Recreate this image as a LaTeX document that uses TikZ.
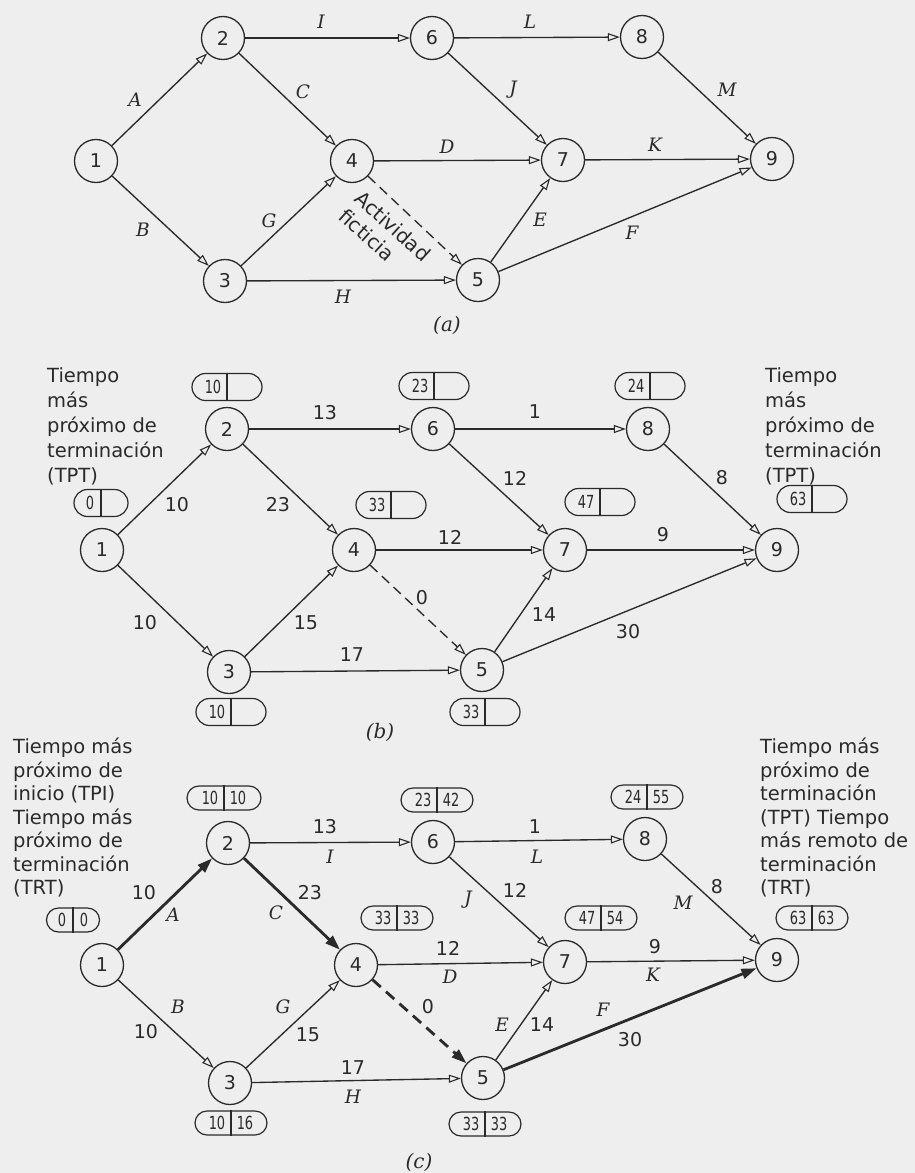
\documentclass[tikz,border=0pt]{standalone}
\usepackage{fontspec}
\newfontfamily\lblfont{DejaVu Sans}
\newfontfamily\itfont{DejaVu Serif}
\newfontfamily\boxfont[FakeStretch=0.72]{DejaVu Sans}
\usetikzlibrary{arrows.meta,shapes.misc,calc}
\definecolor{ink}{HTML}{2A2A2A}
\definecolor{paper}{HTML}{EEEEEE}
\tikzset{
  every node/.style={text=ink},
  circ/.style={circle,draw=ink,line width=1.3pt,minimum size=43pt,inner sep=0pt,font=\lblfont\fontsize{19}{19}\selectfont},
  arr/.style={draw=ink,line width=1.35pt,-{Triangle[open,length=12pt,width=8pt,line width=1.1pt]}},
  crit/.style={draw=ink,line width=2.8pt,-{Triangle[length=15pt,width=10pt]}},
  dummy/.style={arr,dash pattern=on 10pt off 6pt},
  dummycrit/.style={crit,dash pattern=on 11pt off 7pt},
  numlbl/.style={font=\lblfont\fontsize{19}{19}\selectfont,inner sep=0pt},
  ltr/.style={font=\itfont\itshape\fontsize{18.5}{18.5}\selectfont,inner sep=0pt},
  pill/.style={rounded rectangle,draw=ink,line width=1.2pt,minimum height=26pt,minimum width=70pt,inner sep=0pt},
  boxnum/.style={font=\boxfont\fontsize{18}{18}\selectfont,inner sep=0pt},
  notetxt/.style={font=\lblfont\fontsize{19.5}{25}\selectfont,align=left,anchor=north west,inner sep=0pt},
  captxt/.style={font=\itfont\itshape\fontsize{20}{20}\selectfont,inner sep=0pt},
}
\newcommand\pillbox[8]{% name, x, y, width, height, offset, left, right
  \node[pill,minimum width=#4,minimum height=#5] (#1) at (#2,#3) {};
  \draw[draw=ink,line width=1.2pt] (#1.north) -- (#1.south);
  \node[boxnum] (#1l) at ($(#1.center)+(-#6,0)$) {#7};
  \node[boxnum] (#1r) at ($(#1.center)+(#6,0)$) {#8};
}
\begin{document}
\begin{tikzpicture}[x=1pt,y=-1pt]
\fill[paper] (0,0) rectangle (915,1173);
\useasboundingbox (0,0) rectangle (915,1173);

% ================= (a) =================
\node[circ] (a1) at (96,161) {1};
\node[circ] (a2) at (223,38) {2};
\node[circ] (a6) at (432,38) {6};
\node[circ] (a8) at (642,37) {8};
\node[circ] (a4) at (352,161) {4};
\node[circ] (a7) at (563,160) {7};
\node[circ] (a9) at (772,159) {9};
\node[circ] (a3) at (225,281) {3};
\node[circ] (a5) at (478,280) {5};

\draw[arr] (a1) -- (a2);
\draw[arr] (a1) -- (a3);
\draw[arr] (a2) -- (a6);
\draw[arr] (a2) -- (a4);
\draw[arr] (a3) -- (a4);
\draw[arr] (a3) -- (a5);
\draw[arr] (a4) -- (a7);
\draw[dummy] (a4) -- (a5);
\draw[arr] (a6) -- (a8);
\draw[arr] (a6) -- (a7);
\draw[arr] (a5) -- (a7);
\draw[arr] (a5) -- (a9);
\draw[arr] (a7) -- (a9);
\draw[arr] (a8) -- (a9);

\node[ltr] (laA) at (135,100) {A};
\node[ltr] (laB) at (143,230) {B};
\node[ltr] (laC) at (303,92) {C};
\node[ltr] (laG) at (269,221) {G};
\node[ltr] (laI) at (321,22) {I};
\node[ltr] (laD) at (447,147) {D};
\node[ltr] (laH) at (343,297) {H};
\node[ltr] (laL) at (530,22) {L};
\node[ltr] (laJ) at (513,90) {J};
\node[ltr] (laM) at (727,90) {M};
\node[ltr] (laK) at (655,145) {K};
\node[ltr] (laE) at (540,220) {E};
\node[ltr] (laF) at (632,233) {F};
\node[font=\lblfont\fontsize{20}{24}\selectfont,align=left,rotate=-42,inner sep=0pt] (fict) at (385,235) {Actividad\\ficticia};
\node[captxt] (capa) at (447,325) {(a)};

% ================= (b) =================
\node[circ] (b1) at (102,550) {1};
\node[circ] (b2) at (227,429) {2};
\node[circ] (b6) at (433,429) {6};
\node[circ] (b8) at (648,429) {8};
\node[circ] (b4) at (354,550) {4};
\node[circ] (b7) at (565,550) {7};
\node[circ] (b9) at (777,550) {9};
\node[circ] (b3) at (229,672) {3};
\node[circ] (b5) at (482,670) {5};

\draw[arr] (b1) -- (b2);
\draw[arr] (b1) -- (b3);
\draw[arr] (b2) -- (b6);
\draw[arr] (b2) -- (b4);
\draw[arr] (b3) -- (b4);
\draw[arr] (b3) -- (b5);
\draw[arr] (b4) -- (b7);
\draw[dummy] (b4) -- (b5);
\draw[arr] (b6) -- (b8);
\draw[arr] (b6) -- (b7);
\draw[arr] (b5) -- (b7);
\draw[arr] (b5) -- (b9);
\draw[arr] (b7) -- (b9);
\draw[arr] (b8) -- (b9);

\node[numlbl] (nb12) at (177,505) {10};
\node[numlbl] (nb24) at (278,505) {23};
\node[numlbl] (nb26) at (325,413) {13};
\node[numlbl] (nb13) at (145,623) {10};
\node[numlbl] (nb34) at (306,623) {15};
\node[numlbl] (nb35) at (352,655) {17};
\node[numlbl] (nb45) at (422,598) {0};
\node[numlbl] (nb47) at (450,537) {12};
\node[numlbl] (nb68) at (535,412) {1};
\node[numlbl] (nb67) at (515,478) {12};
\node[numlbl] (nb89) at (722,478) {8};
\node[numlbl] (nb79) at (663,535) {9};
\node[numlbl] (nb57) at (544,615) {14};
\node[numlbl] (nb59) at (628,632) {30};

\pillbox{pb1}{101}{503}{54}{27}{11}{0}{}
\pillbox{pb2}{227}{387}{70}{27}{14}{10}{}
\pillbox{pb6}{434}{386}{70}{27}{14}{23}{}
\pillbox{pb4}{391}{505}{70}{27}{14}{33}{}
\pillbox{pb3}{231}{712}{70}{27}{14}{10}{}
\pillbox{pb8}{650}{386}{70}{27}{14}{24}{}
\pillbox{pb7}{600}{502}{70}{27}{14}{47}{}
\pillbox{pb9}{812}{499}{70}{27}{14}{63}{}
\pillbox{pb5}{485}{712}{70}{27}{14}{33}{}

\node[notetxt] (nbl) at (47,367) {Tiempo\\más\\próximo de\\terminación\\(TPT)};
\node[notetxt] (nbr) at (765,367) {Tiempo\\más\\próximo de\\terminación\\(TPT)};
\node[captxt] (capb) at (380,732) {(b)};

% ================= (c) =================
\node[circ] (c1) at (102,965) {1};
\node[circ] (c2) at (228,843) {2};
\node[circ] (c6) at (433,842) {6};
\node[circ] (c8) at (645,839) {8};
\node[circ] (c4) at (356,965) {4};
\node[circ] (c7) at (565,962) {7};
\node[circ] (c9) at (777,960) {9};
\node[circ] (c3) at (230,1083) {3};
\node[circ] (c5) at (483,1078) {5};

\draw[crit] (c1) -- (c2);
\draw[arr] (c1) -- (c3);
\draw[arr] (c2) -- (c6);
\draw[crit] (c2) -- (c4);
\draw[arr] (c3) -- (c4);
\draw[arr] (c3) -- (c5);
\draw[arr] (c4) -- (c7);
\draw[dummycrit] (c4) -- (c5);
\draw[arr] (c6) -- (c8);
\draw[arr] (c6) -- (c7);
\draw[arr] (c5) -- (c7);
\draw[crit] (c5) -- (c9);
\draw[arr] (c7) -- (c9);
\draw[arr] (c8) -- (c9);

\node[numlbl] (nc12) at (144,893) {10};
\node[ltr] (lcA) at (173,915) {A};
\node[numlbl] (nc24) at (310,893) {23};
\node[ltr] (lcC) at (276,913) {C};
\node[numlbl] (nc26) at (325,827) {13};
\node[ltr] (lcI) at (330,857) {I};
\node[ltr] (lcB) at (178,1007) {B};
\node[numlbl] (nc13) at (146,1032) {10};
\node[ltr] (lcG) at (283,1007) {G};
\node[numlbl] (nc34) at (308,1035) {15};
\node[numlbl] (nc45) at (428,1007) {0};
\node[numlbl] (nc35) at (353,1068) {17};
\node[ltr] (lcH) at (353,1097) {H};
\node[numlbl] (nc47) at (448,948) {12};
\node[ltr] (lcD) at (450,977) {D};
\node[numlbl] (nc68) at (535,827) {1};
\node[ltr] (lcL) at (537,857) {L};
\node[ltr] (lcJ) at (468,900) {J};
\node[numlbl] (nc67) at (515,890) {12};
\node[numlbl] (nc89) at (717,887) {8};
\node[ltr] (lcM) at (683,903) {M};
\node[numlbl] (nc79) at (655,947) {9};
\node[ltr] (lcK) at (653,975) {K};
\node[ltr] (lcF) at (603,1010) {F};
\node[ltr] (lcE) at (502,1025) {E};
\node[numlbl] (nc57) at (542,1025) {14};
\node[numlbl] (nc59) at (630,1040) {30};

\pillbox{pc1}{73}{920}{53}{24}{11}{0}{0}
\pillbox{pc2}{224}{798}{74}{24}{14}{10}{10}
\pillbox{pc6}{437}{800}{72}{24}{14}{23}{42}
\pillbox{pc4}{397}{918}{72}{24}{14}{33}{33}
\pillbox{pc3}{231}{1123}{72}{24}{14}{10}{16}
\pillbox{pc8}{647}{797}{72}{24}{14}{24}{55}
\pillbox{pc7}{601}{918}{72}{24}{14}{47}{54}
\pillbox{pc9}{812}{918}{72}{24}{14}{63}{63}
\pillbox{pc5}{485}{1124}{72}{24}{14}{33}{33}

\node[notetxt,font=\lblfont\fontsize{19.5}{23.5}\selectfont] (ncl) at (13,738) {Tiempo más\\próximo de\\inicio (TPI)\\Tiempo más\\próximo de\\terminación\\(TRT)};
\node[notetxt,font=\lblfont\fontsize{19.5}{23.5}\selectfont] (ncr) at (760,738) {Tiempo más\\próximo de\\terminación\\(TPT) Tiempo\\más remoto de\\terminación\\(TRT)};
\node[captxt] (capc) at (419,1162) {(c)};
\end{tikzpicture}
\end{document}
